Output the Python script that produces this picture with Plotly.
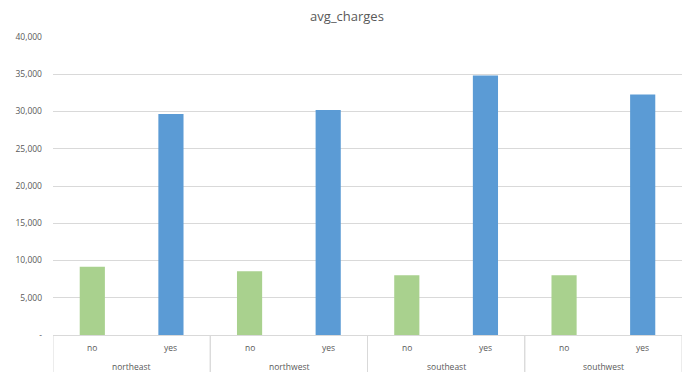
import plotly.graph_objects as go

regions = ["northeast", "northeast", "northwest", "northwest", "southeast", "southeast", "southwest", "southwest"]
smoker = ["no", "yes", "no", "yes", "no", "yes", "no", "yes"]
avg_charges = [9165.5, 29673.5, 8556.5, 30192.0, 8032.2, 34845.0, 8019.3, 32269.1]
bar_colors = ["#A9D18E", "#5B9BD5"] * 4
ytick_vals = [0, 5000, 10000, 15000, 20000, 25000, 30000, 35000, 40000]
ytick_text = ["-", "5,000", "10,000", "15,000", "20,000", "25,000", "30,000", "35,000", "40,000"]

idx = list(range(len(avg_charges)))
text_color = "#595959"
grid_color = "#D9D9D9"

fig = go.Figure(go.Bar(
    x=idx, y=avg_charges,
    marker=dict(color=bar_colors, line=dict(width=0)),
    width=0.32,
))

annotations = []
for i, s in zip(idx, smoker):
    annotations.append(dict(x=i, y=0, xref="x", yref="paper", text=s, showarrow=False,
                            yshift=-12, yanchor="middle",
                            font=dict(size=8.5, color=text_color, family="Open Sans")))
groups = []
for r in regions:
    if r not in groups:
        groups.append(r)
shapes = []
for g in groups:
    members = [i for i, r in zip(idx, regions) if r == g]
    annotations.append(dict(x=sum(members) / len(members), y=0, xref="x", yref="paper", text=g,
                            showarrow=False, yshift=-31, yanchor="middle",
                            font=dict(size=8.5, color=text_color, family="Open Sans")))
    for edge in (min(members) - 0.5, max(members) + 0.5):
        shapes.append(dict(type="line", xref="x", yref="paper", x0=edge, x1=edge,
                           y0=0, y1=-0.124, line=dict(color=grid_color, width=1)))

fig.update_layout(
    width=694, height=378,
    margin=dict(l=53, r=12, t=37, b=43),
    paper_bgcolor="white", plot_bgcolor="white",
    font=dict(family="Open Sans", color=text_color, size=9),
    title=dict(text="avg_charges", x=0.5, xanchor="center", y=0.957, yanchor="middle",
               font=dict(size=13, color=text_color, family="Open Sans")),
    showlegend=False,
    annotations=annotations,
    shapes=shapes,
)
fig.update_xaxes(
    range=[-0.5, len(idx) - 0.5], showticklabels=False, showgrid=False, zeroline=False,
    showline=True, linecolor=grid_color, linewidth=1, ticks="",
)
fig.update_yaxes(
    range=[0, 40000], tickvals=ytick_vals, ticktext=ytick_text,
    showgrid=True, gridcolor=grid_color, gridwidth=1, zeroline=False,
    tickfont=dict(size=8.5, color=text_color), ticks="", ticklabelstandoff=10,
)
fig.write_html("out.html")
